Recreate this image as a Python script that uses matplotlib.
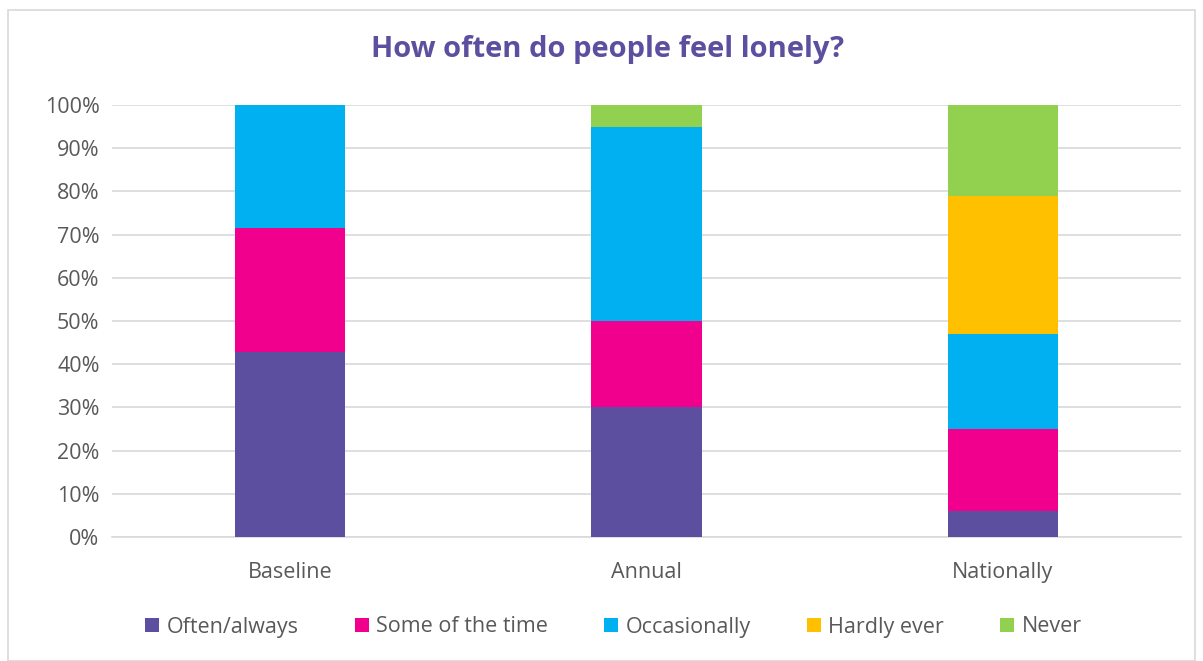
import matplotlib.pyplot as plt
import numpy as np
from matplotlib.patches import Rectangle

# data (percent of respondents)
categories = ["Baseline", "Annual", "Nationally"]
series_names = ["Often/always", "Some of the time", "Occasionally", "Hardly ever", "Never"]
often_always = [42.9, 30, 6]
some_of_the_time = [28.6, 20, 19]
occasionally = [28.5, 45, 22]
hardly_ever = [0, 0, 32]
never = [0, 5, 21]

colors = ["#5C4FA0", "#F0008C", "#00B0F0", "#FFC000", "#92D050"]

plt.rcParams["font.family"] = ["Open Sans", "DejaVu Sans"]

fig = plt.figure(figsize=(12.03, 6.61), dpi=100)
ax = fig.add_axes([112 / 1203, 1 - 537 / 661, (1181 - 112) / 1203, 432 / 661])

# light border around the chart area
fig.add_artist(Rectangle((8 / 1203, 0.0), 1 - 16 / 1203, 1 - 10 / 661,
                         transform=fig.transFigure, fill=False,
                         edgecolor="#D9D9D9", linewidth=1.2))

x = np.arange(len(categories))
bottom = np.zeros(len(categories))
for name, vals, col in zip(series_names,
                           [often_always, some_of_the_time, occasionally, hardly_ever, never],
                           colors):
    vals = np.array(vals, dtype=float)
    ax.bar(x, vals, width=0.31, bottom=bottom, color=col, label=name, zorder=3)
    bottom += vals

ax.set_xlim(-0.5, 2.5)
ax.set_ylim(0, 100)
ax.set_yticks(np.arange(0, 101, 10))
ax.set_yticklabels([f"{v}%" for v in range(0, 101, 10)])
ax.set_xticks(x)
ax.set_xticklabels(categories)
ax.yaxis.grid(True, color="#D9D9D9", linewidth=1.2, zorder=0)
ax.set_axisbelow(True)
for s in ["top", "right", "left"]:
    ax.spines[s].set_visible(False)
ax.spines["bottom"].set_color("#D9D9D9")
ax.spines["bottom"].set_linewidth(1.2)
ax.tick_params(axis="both", length=0, labelsize=15.5, labelcolor="#595959")
ax.tick_params(axis="x", pad=18)
ax.tick_params(axis="y", pad=9)

fig.text(0.505, 1 - 50 / 661, "How often do people feel lonely?", ha="center", va="center",
         fontsize=21, fontweight="bold", color="#5C4FA0")

fig.legend(loc="center", bbox_to_anchor=(0.51, 1 - 627 / 661), ncol=5, frameon=False,
           fontsize=15.5, labelcolor="#595959", handlelength=0.65, handleheight=0.65,
           handletextpad=0.35, columnspacing=2.6)

fig.savefig("out.png", dpi=100)
